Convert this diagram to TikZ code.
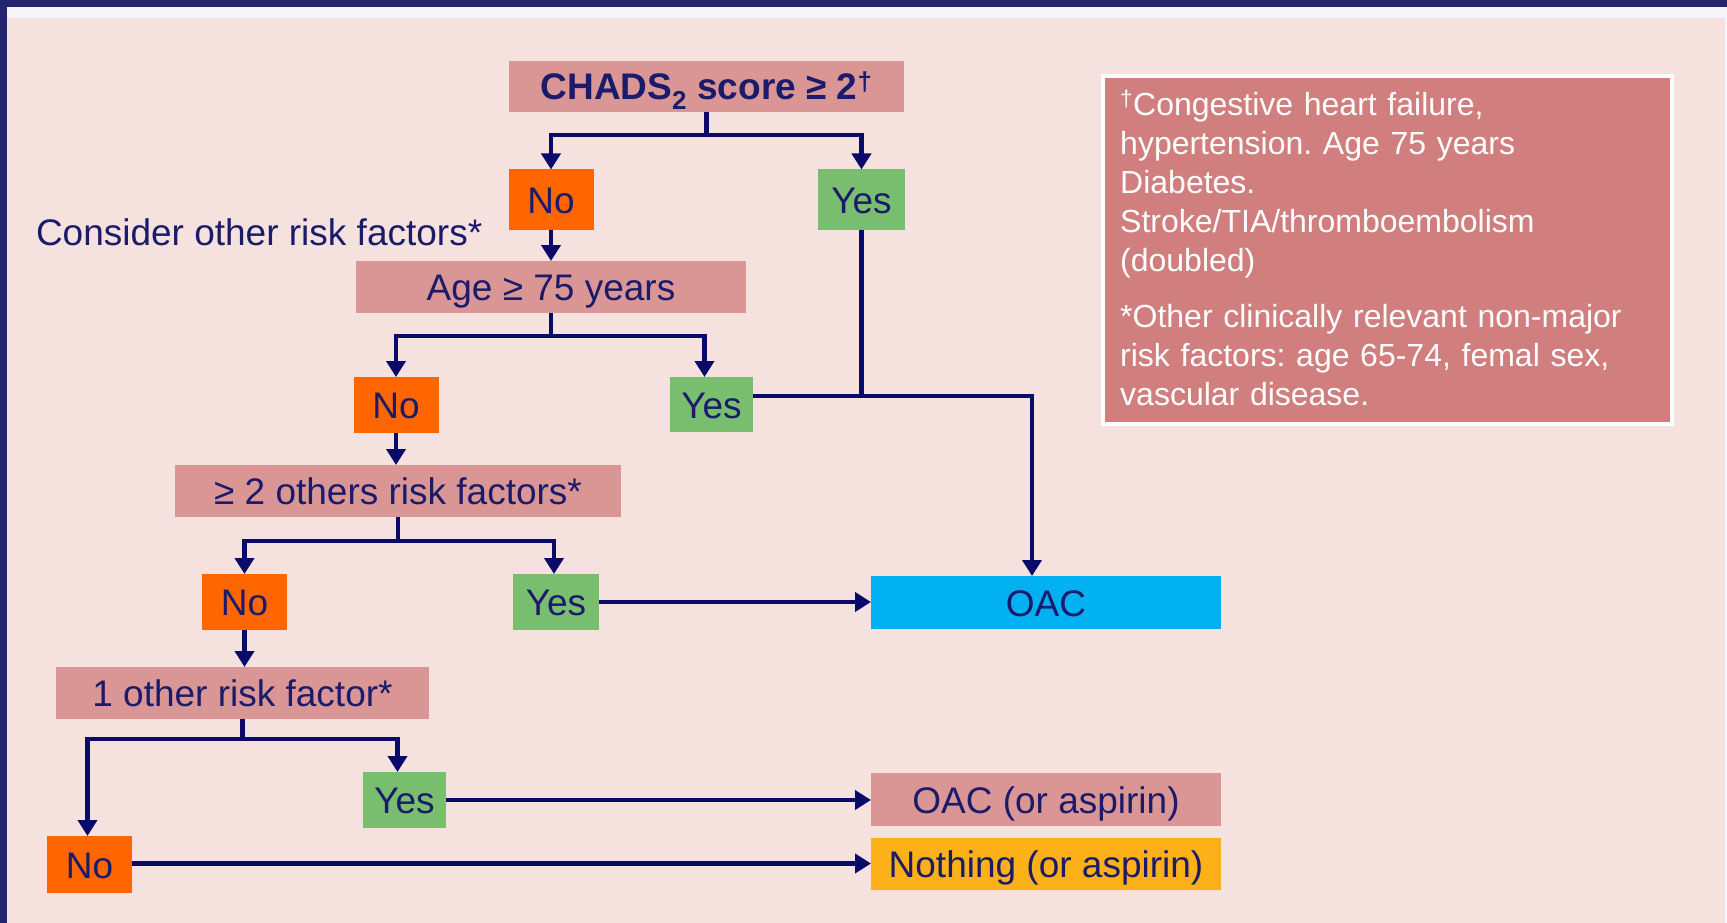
\documentclass[tikz,border=0pt]{standalone}
\usepackage{fontspec}
\setmainfont{Liberation Sans}
\usetikzlibrary{arrows.meta}

\definecolor{framec}{HTML}{25256F}
\definecolor{stripc}{HTML}{F6F5FB}
\definecolor{paper}{HTML}{F5E2DF}
\definecolor{rosebox}{HTML}{D99694}
\definecolor{nofill}{HTML}{FF6600}
\definecolor{yesfill}{HTML}{79BE6F}
\definecolor{oacfill}{HTML}{00B0F0}
\definecolor{nilfill}{HTML}{FDB118}
\definecolor{notefill}{HTML}{D07E7E}
\definecolor{ink}{HTML}{1B1B6B}
\definecolor{wire}{HTML}{0A0A6A}

\frenchspacing
\begin{document}
\begin{tikzpicture}[x=1pt,y=-1pt,
  box/.style={rectangle, inner sep=0pt, outer sep=0pt, text=ink,
    font=\fontsize{37}{44}\selectfont, text height=27pt, text depth=0pt},
  rosenode/.style={box, fill=rosebox},
  nonode/.style={box, fill=nofill, minimum width=85pt, minimum height=57pt},
  yesnode/.style={box, fill=yesfill, minimum width=85pt, minimum height=56pt},
  line/.style={draw=wire, line width=4.2pt},
  arr/.style={line, -{Triangle[width=19pt,length=16pt]}}
]
\useasboundingbox (0,0) rectangle (1727,923);

% slide frame and background
\fill[framec] (0,0) rectangle (1727,923);
\fill[paper] (7,7) rectangle (1725,923);
\fill[stripc] (7,7) rectangle (1725,18);
\fill[stripc] (1725,7) rectangle (1727,923);

% decision boxes
\node[rosenode, minimum width=395pt, minimum height=51pt, font=\fontsize{37}{44}\selectfont\bfseries]
  (chads) at (706.5,86.5) {CHADS\textsubscript{2} score ≥ 2\textsuperscript{†}};
\node[nonode, minimum height=60pt] (no1) at (551,199.5) {No};
\node[yesnode, minimum width=87pt, minimum height=60pt] (yes1) at (861.5,199.5) {Yes};
\node[box, anchor=base west] (consider) at (36,245) {Consider other risk factors*};

\node[rosenode, minimum width=390pt, minimum height=52pt] (age) at (551,287) {Age ≥ 75 years};
\node[nonode, minimum height=56pt] (no2) at (396,405) {No};
\node[yesnode, minimum width=83pt, minimum height=55pt] (yes2) at (711.5,404.5) {Yes};

\node[rosenode, minimum width=446pt, minimum height=52pt] (two) at (398,491) {≥ 2 others risk factors*};
\node[nonode, minimum height=56pt] (no3) at (244.5,602) {No};
\node[yesnode, minimum width=86pt] (yes3) at (556,602) {Yes};
\node[box, fill=oacfill, minimum width=350pt, minimum height=53pt] (oac) at (1046,602.5) {OAC};

\node[rosenode, minimum width=373pt, minimum height=52pt] (one) at (242.5,693) {1 other risk factor*};
\node[yesnode, minimum width=83pt] (yes4) at (404.5,800) {Yes};
\node[rosenode, minimum width=350pt, minimum height=53pt] (oacasp) at (1046,799.5) {OAC (or aspirin)};
\node[nonode] (no5) at (89.5,864.5) {No};
\node[box, fill=nilfill, minimum width=350pt, minimum height=52pt] (nothing) at (1046,863.5) {Nothing (or aspirin)};

% footnote panel
\node[draw=white, line width=4pt, fill=notefill, inner sep=0pt,
  minimum width=569pt, minimum height=348pt] (note) at (1387.5,250) {};
\node[anchor=base west, inner sep=0pt, text=white, text width=540pt, align=left,
  font=\fontsize{32}{39}\selectfont] (notetext) at (1120,116)
  {\textsuperscript{†}Congestive heart failure,\\
   hypertension. Age 75 years\\
   Diabetes.\\
   Stroke/TIA/thromboembolism\\
   (doubled)\\[17pt]
   *Other clinically relevant non-major\\
   risk factors: age 65-74, femal sex,\\
   vascular disease.};

% junctions of the branching connectors
\coordinate (j1) at ([yshift=-23pt]chads.south);
\coordinate (j2) at ([yshift=-23pt]age.south);
\coordinate (j3) at ([yshift=-24pt]two.south);
\coordinate (j4) at ([yshift=-20pt]one.south);
\coordinate (m) at (1032,396);

% connectors
\draw[line] (chads.south) -- (j1);
\draw[arr] (j1) -| (no1.north);
\draw[arr] (j1) -| (yes1.north);

\draw[arr] (no1.south) -- (no1.south |- age.north);
\draw[line] (age.south) -- (j2);
\draw[arr] (j2) -| (no2.north);
\draw[arr] (j2) -| ([xshift=-7pt]yes2.north);

\draw[line] (yes1.south) -- (yes1.south |- m);
\draw[arr] ([yshift=8.5pt]yes2.east) -- (m) -- (m |- oac.north);

\draw[arr] (no2.south) -- (no2.south |- two.north);
\draw[line] (two.south) -- (j3);
\draw[arr] (j3) -| (no3.north);
\draw[arr] (j3) -| ([xshift=-2pt]yes3.north);
\draw[arr] (yes3.east) -- (yes3.east -| oac.west);

\draw[arr] (no3.south) -- (no3.south |- one.north);
\draw[line] (one.south) -- (j4);
\draw[arr] (j4) -| ([xshift=-2pt]no5.north);
\draw[arr] (j4) -| ([xshift=-7pt]yes4.north);
\draw[arr] (yes4.east) -- (yes4.east -| oacasp.west);
\draw[arr] ([yshift=1pt]no5.east) -- ([yshift=1pt]no5.east -| nothing.west);
\end{tikzpicture}
\end{document}
